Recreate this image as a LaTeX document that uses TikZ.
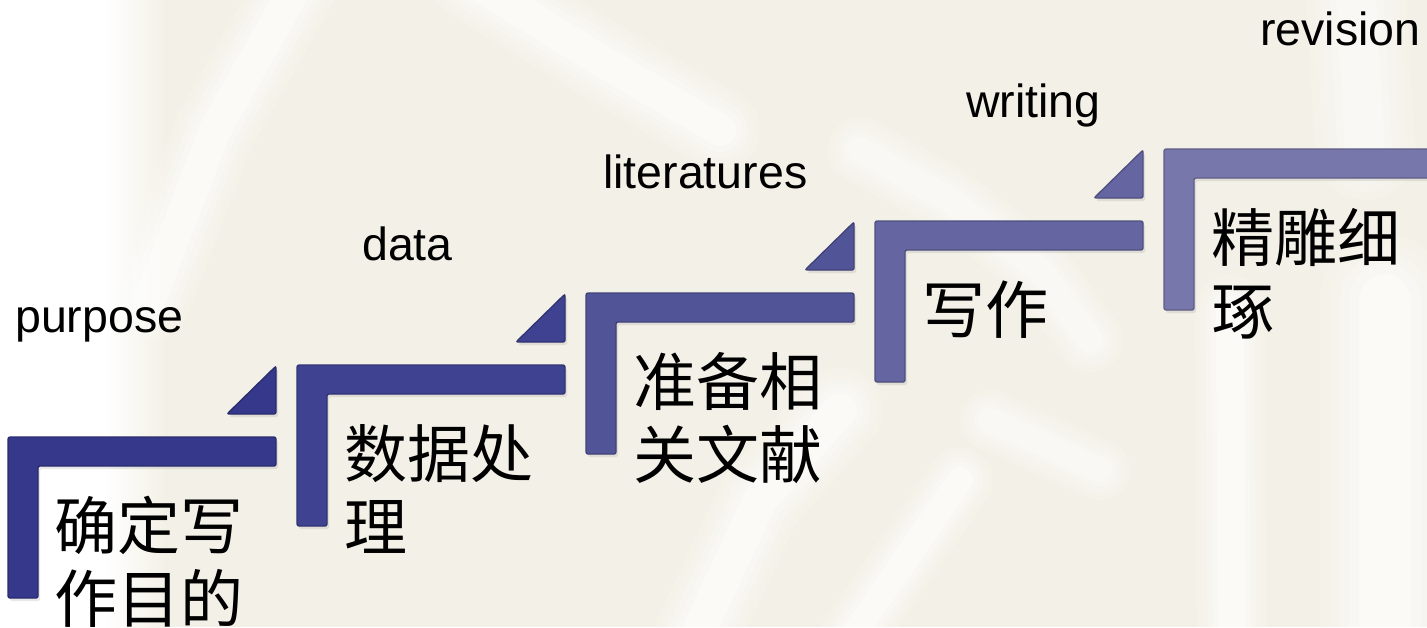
\documentclass[tikz,border=0pt]{standalone}
\usepackage{fontspec}
\setmainfont{Liberation Sans}
\newfontfamily\cjk{Noto Sans CJK SC}
\usetikzlibrary{shadows}
\definecolor{bg}{HTML}{F3F1E7}
\definecolor{sa}{HTML}{35388B}
\definecolor{sb}{HTML}{3F4291}
\definecolor{sc}{HTML}{525498}
\definecolor{sd}{HTML}{6465A1}
\definecolor{se}{HTML}{7877AC}
\begin{document}
\begin{tikzpicture}[x=1pt,y=-1pt,
  stepshape/.style={fill=#1, draw=#1!78!black, line width=1.3pt, rounded corners=2pt,
    drop shadow={opacity=0.18, shadow xshift=2pt, shadow yshift=-3pt}},
  softw/.style={white, line cap=round, line join=round},
  lbl/.style={anchor=base west, inner sep=0pt, font=\fontsize{46.5}{50}\selectfont},
  cjkt/.style={anchor=base west, inner sep=0pt, font=\cjk\fontsize{63}{73}\selectfont}]
\useasboundingbox (0,0) rectangle (1427,627);
\begin{scope}
\clip (0,0) rectangle (1427,627);
% background
\fill[bg] (0,0) rectangle (1427,627);
\fill[white] (0,0) rectangle (105,627);
\shade[left color=white, right color=bg] (104,0) rectangle (165,627);
\foreach \w/\o in {1.0/0.12,0.85/0.15,0.7/0.2,0.55/0.25,0.4/0.4}{
  \draw[softw, line width=\w*80pt, opacity=\o] (150,300) -- (215,130) -- (300,-20);
  \draw[softw, line width=\w*80pt, opacity=\o] (470,-20) -- (600,60) -- (720,130);
  \draw[softw, line width=\w*65pt, opacity=0.8*\o] (860,150) -- (950,200) -- (1040,270) -- (1090,340);
  \draw[softw, line width=\w*70pt, opacity=\o] (1230,310) -- (1232,650);
  \draw[softw, line width=\w*130pt, opacity=\o] (1385,300) -- (1385,650);
  \draw[softw, line width=\w*100pt, opacity=0.8*\o] (1355,-20) -- (1365,150);
  \draw[softw, line width=\w*85pt, opacity=\o] (690,650) -- (760,500) -- (840,410);
  \draw[softw, line width=\w*65pt, opacity=\o] (850,640) -- (960,480);
  \draw[softw, line width=\w*60pt, opacity=0.8*\o] (990,420) -- (1100,470);
}
% steps
\foreach \i/\c in {0/sa,1/sb,2/sc,3/sd,4/se}{
  \pgfmathsetmacro\xo{8+289*\i}
  \pgfmathsetmacro\yo{437-72*\i}
  \path[stepshape=\c] (\xo,\yo) -- ++(268,0) -- ++(0,29) -- ++(-238,0) -- ++(0,132) -- ++(-30,0) -- cycle;
}
\foreach \i/\c in {0/sa,1/sb,2/sc,3/sd}{
  \pgfmathsetmacro\xo{8+289*\i}
  \pgfmathsetmacro\yo{437-72*\i}
  \path[stepshape=\c] (\xo+219,\yo-23) -- (\xo+268,\yo-23) -- (\xo+268,\yo-71) -- cycle;
}
\end{scope}
% English labels
\node[lbl] (l1) at (15,332) {purpose};
\node[lbl] (l2) at (362,260) {data};
\node[lbl] (l3) at (603,188) {literatures};
\node[lbl] (l4) at (966,117) {writing};
\node[lbl] (l5) at (1260,45) {revision};
% Chinese texts
\node[cjkt] (t1a) at (54,549) {确定写};
\node[cjkt] (t1b) at (54,622) {作目的};
\node[cjkt] (t2a) at (344,477) {数据处};
\node[cjkt] (t2b) at (344,550) {理};
\node[cjkt] (t3a) at (633,405) {准备相};
\node[cjkt] (t3b) at (633,478) {关文献};
\node[cjkt] (t4a) at (922,333) {写作};
\node[cjkt] (t5a) at (1211,261) {精雕细};
\node[cjkt] (t5b) at (1211,334) {琢};
\end{tikzpicture}
\end{document}
